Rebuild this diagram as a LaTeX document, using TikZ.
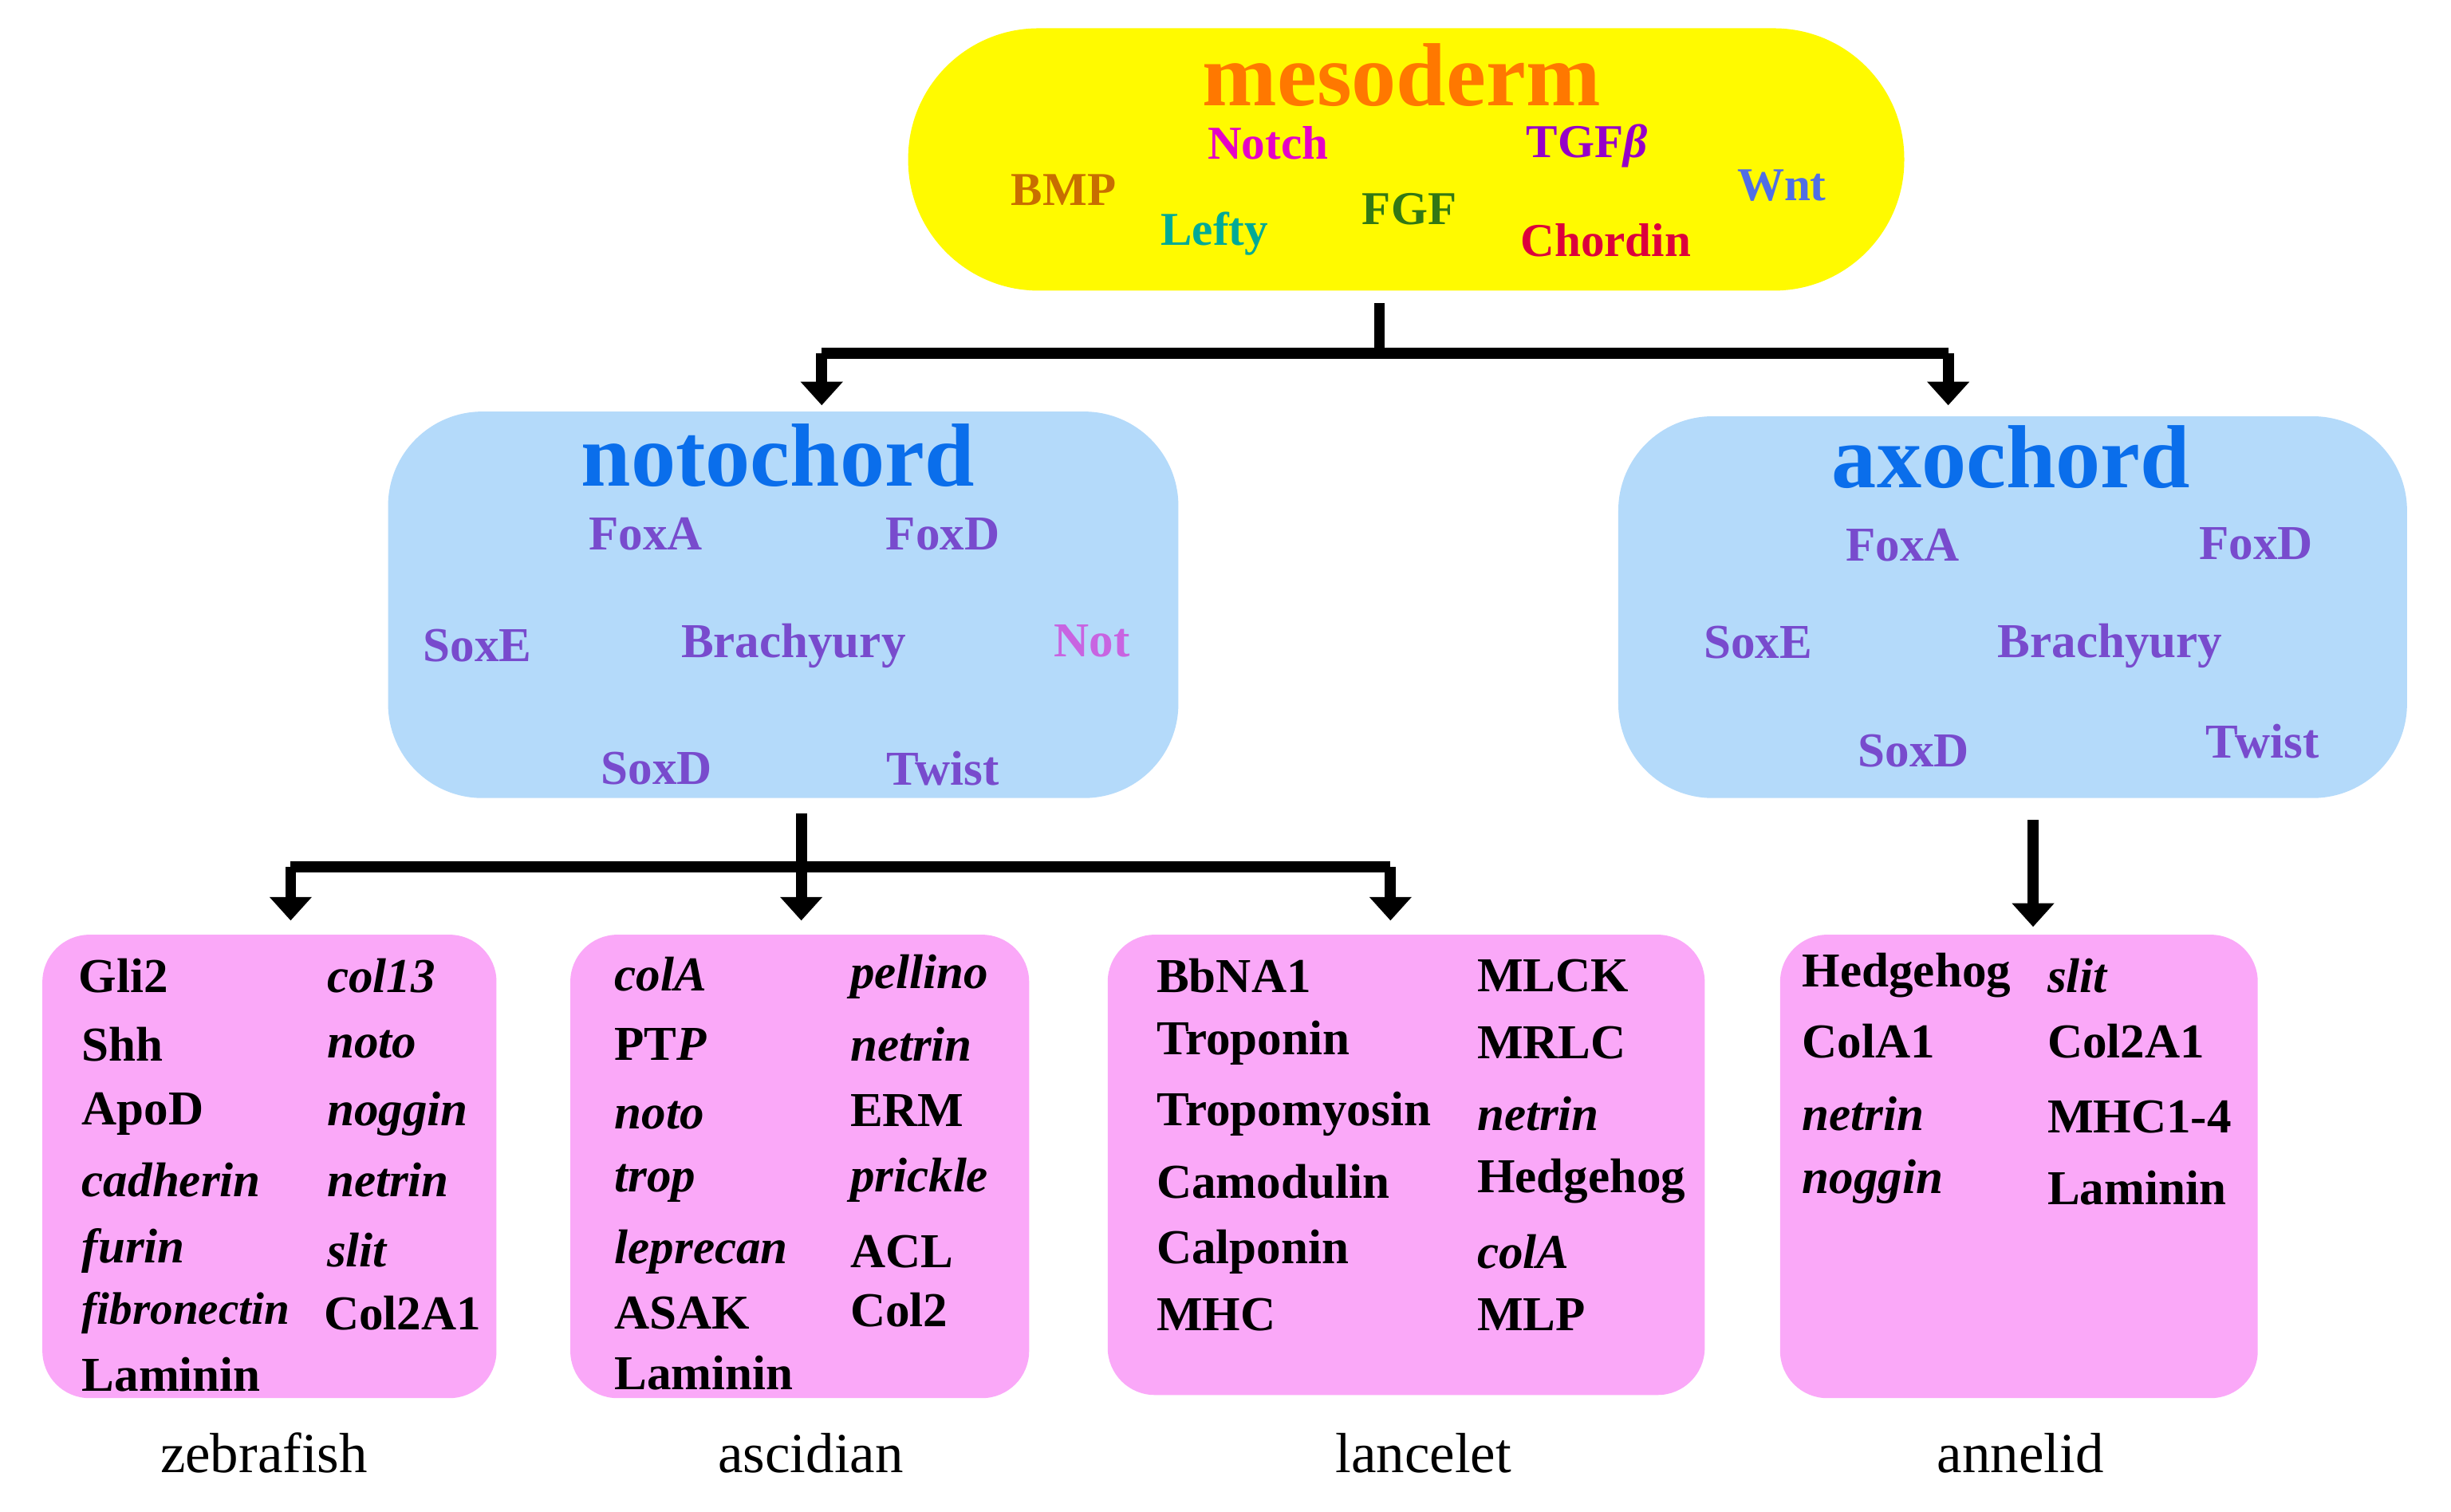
\documentclass[tikz,border=0pt]{standalone}
\usepackage{fontspec}
\setmainfont{Liberation Serif}
\usetikzlibrary{arrows.meta}
\begin{document}
\begin{tikzpicture}[x=1pt,y=-1pt,
  g/.style={font=\fontsize{31}{33}\selectfont\bfseries, inner sep=0pt},
  gl/.style={g, anchor=west},
  gi/.style={g, anchor=west, font=\fontsize{31}{33}\selectfont\bfseries\itshape},
  tr/.style={g, font=\fontsize{31}{33}\selectfont\bfseries, text=trc},
  ms/.style={g, font=\fontsize{30}{32}\selectfont\bfseries},
  ttl/.style={inner sep=0pt, font=\fontsize{57}{59}\selectfont\bfseries},
  lab/.style={inner sep=0pt, font=\fontsize{36}{38}\selectfont},
  arr/.style={line width=7pt, -{Triangle[length=15pt,width=26pt]}},
  ln/.style={line width=7pt}]
\definecolor{yel}{RGB}{255,250,0}
\definecolor{blu}{RGB}{180,218,250}
\definecolor{pnk}{RGB}{250,168,248}
\definecolor{trc}{RGB}{120,75,205}
\definecolor{ttlb}{RGB}{10,110,235}
\useasboundingbox (0,0) rectangle (1560,962);
\fill[white] (0,0) rectangle (1560,962);
% boxes
\fill[yel, rounded corners=83pt] (578,18) rectangle (1212,185);
\fill[blu, rounded corners=60pt] (247,262) rectangle (750,508);
\fill[blu, rounded corners=60pt] (1030,265) rectangle (1532,508);
\fill[pnk, rounded corners=30pt] (27,595) rectangle (316,890);
\fill[pnk, rounded corners=30pt] (363,595) rectangle (655,890);
\fill[pnk, rounded corners=30pt] (705,595) rectangle (1085,888);
\fill[pnk, rounded corners=30pt] (1133,595) rectangle (1437,890);
% mesoderm
\node[ttl, text={rgb,255:red,255;green,120;blue,0}] (meso) at (892,48) {mesoderm};
\node[ms, text={rgb,255:red,230;green,0;blue,200}] (notch) at (807,91) {Notch};
\node[ms, text={rgb,255:red,150;green,0;blue,200}] (tgf) at (1010,93) {TGF\textit{β}};
\node[ms, text={rgb,255:red,200;green,110;blue,0}] (bmp) at (677,121) {BMP};
\node[ms, text={rgb,255:red,80;green,110;blue,230}] (wnt) at (1134,118) {Wnt};
\node[ms, text={rgb,255:red,0;green,170;blue,150}] (lefty) at (773,149) {Lefty};
\node[ms, text={rgb,255:red,50;green,120;blue,20}] (fgf) at (897,133) {FGF};
\node[ms, text={rgb,255:red,220;green,0;blue,60}] (chordin) at (1022,153) {Chordin};
% notochord
\node[ttl, text=ttlb] (noto) at (495,290) {notochord};
\node[tr] (n1) at (411,340) {FoxA};
\node[tr] (n2) at (600,340) {FoxD};
\node[tr] (n3) at (304,411) {SoxE};
\node[tr] (n4) at (505,411) {Brachyury};
\node[tr, text={rgb,255:red,200;green,100;blue,225}] (n5) at (695,408) {Not};
\node[tr] (n6) at (418,489) {SoxD};
\node[tr] (n7) at (600,489) {Twist};
% axochord
\node[ttl, text=ttlb] (axo) at (1280,291) {axochord};
\node[tr] (a1) at (1211,347) {FoxA};
\node[tr] (a2) at (1436,346) {FoxD};
\node[tr] (a3) at (1119,409) {SoxE};
\node[tr] (a4) at (1343,411) {Brachyury};
\node[tr] (a5) at (1218,478) {SoxD};
\node[tr] (a6) at (1440,472) {Twist};
% connectors
\coordinate (m0) at (878,193);
\coordinate (m1) at (878,225);
\coordinate (mL) at (523,225);
\coordinate (mR) at (1240,225);
\coordinate (nt) at (523,258);
\coordinate (at) at (1240,258);
\draw[ln] (m0) -- (m1);
\draw[ln] (mL) -- (mR);
\draw[arr] (mL) -- (nt);
\draw[arr] (mR) -- (at);
\coordinate (p0) at (510,518);
\coordinate (p1) at (510,552);
\coordinate (pL) at (185,552);
\coordinate (pR) at (885,552);
\coordinate (zt) at (185,586);
\coordinate (st) at (510,586);
\coordinate (lt) at (885,586);
\draw[ln] (p0) -- (p1);
\draw[ln] (pL) -- (pR);
\draw[arr] (pL) -- (zt);
\draw[arr] (p1) -- (st);
\draw[arr] (pR) -- (lt);
\coordinate (q0) at (1294,522);
\coordinate (q1) at (1294,590);
\draw[arr] (q0) -- (q1);
% zebrafish
\node[gl] (z1) at (50,621) {Gli2};
\node[gl] (z2) at (52,665) {Shh};
\node[gl] (z3) at (52,709) {ApoD};
\node[gi] (z4) at (52,751) {cadherin};
\node[gi] (z5) at (52,796) {furin};
\node[gi, font=\fontsize{29}{31}\selectfont\bfseries\itshape] (z6) at (52,836) {fibronectin};
\node[gl] (z7) at (52,875) {Laminin};
\node[gi] (z8) at (208,621) {col13};
\node[gi] (z9) at (208,665) {noto};
\node[gi] (z10) at (208,709) {noggin};
\node[gi] (z11) at (208,751) {netrin};
\node[gi] (z12) at (208,796) {slit};
\node[gl] (z13) at (206,836) {Col2A1};
% ascidian
\node[gi] (s1) at (391,620) {colA};
\node[gl] (s2) at (391,665) {PT\textit{P}};
\node[gi] (s3) at (391,710) {noto};
\node[gi] (s4) at (391,753) {trop};
\node[gi] (s5) at (391,797) {leprecan};
\node[gl] (s6) at (391,836) {ASAK};
\node[gl] (s7) at (391,874) {Laminin};
\node[gi] (s8) at (541,622) {pellino};
\node[gi] (s9) at (541,665) {netrin};
\node[gl] (s10) at (541,707) {ERM};
\node[gi] (s11) at (541,751) {prickle};
\node[gl] (s12) at (541,797) {ACL};
\node[gl] (s13) at (541,834) {Col2};
% lancelet
\node[gl] (l1) at (736,621) {BbNA1};
\node[gl] (l2) at (736,664) {Troponin};
\node[gl] (l3) at (736,709) {Tropomyosin};
\node[gl] (l4) at (736,752) {Camodulin};
\node[gl] (l5) at (736,797) {Calponin};
\node[gl] (l6) at (736,837) {MHC};
\node[gl] (l7) at (940,621) {MLCK};
\node[gl] (l8) at (940,664) {MRLC};
\node[gi] (l9) at (940,709) {netrin};
\node[gl] (l10) at (940,752) {Hedgehog};
\node[gi] (l11) at (940,797) {colA};
\node[gl] (l12) at (940,837) {MLP};
% annelid
\node[gl] (e1) at (1147,621) {Hedgehog};
\node[gl] (e2) at (1147,663) {ColA1};
\node[gi] (e3) at (1147,709) {netrin};
\node[gi] (e4) at (1147,752) {noggin};
\node[gi] (e5) at (1303,621) {slit};
\node[gl] (e6) at (1303,663) {Col2A1};
\node[gl] (e7) at (1303,711) {MHC1-4};
\node[gl] (e8) at (1303,756) {Laminin};
% labels
\node[lab] (L1) at (168,925) {zebrafish};
\node[lab] (L2) at (516,925) {ascidian};
\node[lab] (L3) at (906,925) {lancelet};
\node[lab] (L4) at (1286,925) {annelid};
\end{tikzpicture}
\end{document}
